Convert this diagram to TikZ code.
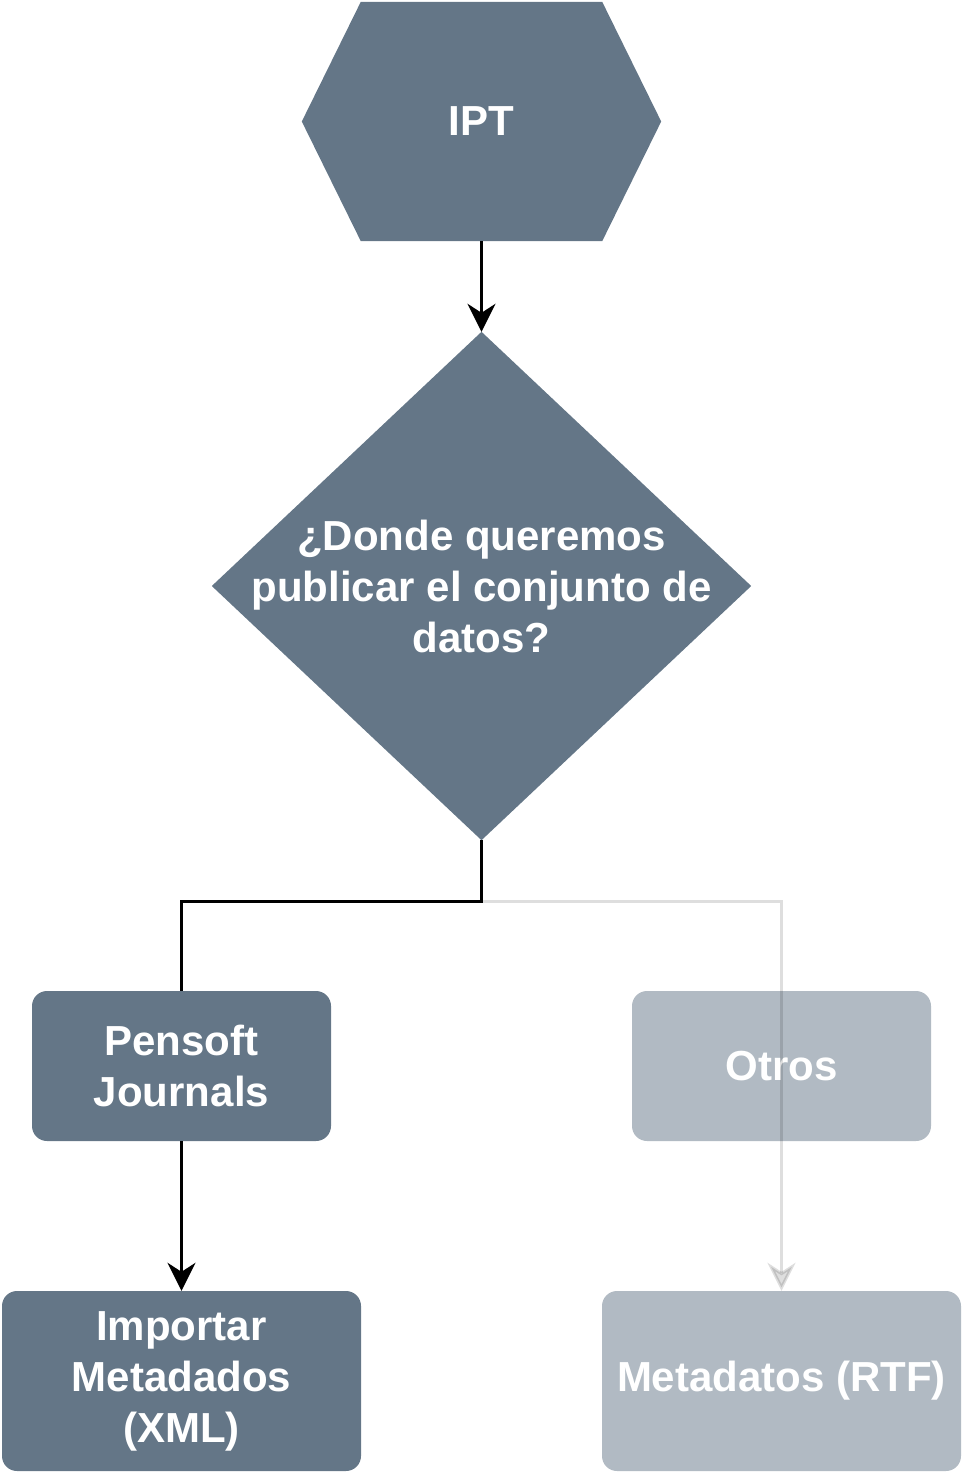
\documentclass[tikz,border=0pt]{standalone}
\usepackage{fontspec}
\setmainfont{Liberation Sans}
\usetikzlibrary{arrows.meta,calc}

\definecolor{slate}{HTML}{647687}

\begin{document}
\begin{tikzpicture}[x=1pt, y=-1pt,
    txt/.style={text=white, font=\fontsize{42}{51}\selectfont\bfseries, align=center},
    box/.style={txt, rectangle, rounded corners=15pt, fill=slate, minimum width=299pt, minimum height=150pt},
    bigbox/.style={box, minimum width=359pt, minimum height=180pt},
    faded/.style={fill=slate, fill opacity=0.5, text opacity=1},
    link/.style={line width=3pt, -{Stealth[length=28pt, width=28pt, inset=9pt]}}
  ]

    \useasboundingbox (0, 0) rectangle (963, 1473);

    % IPT
    \node[minimum width=359pt, minimum height=239pt] (ipt) at (481.5, 121.5) {};
    \fill[slate] ($(ipt.north west)+(59,0)$) -- ($(ipt.north east)+(-59,0)$) -- (ipt.east)
        -- ($(ipt.south east)+(-59,0)$) -- ($(ipt.south west)+(59,0)$) -- (ipt.west) -- cycle;
    \node[txt] at (ipt) {IPT};

    % pregunta
    \node[minimum width=539pt, minimum height=508pt] (q) at (481.5, 586) {};
    \fill[slate] (q.north) -- (q.east) -- (q.south) -- (q.west) -- cycle;
    \node[txt] at (q) {¿Donde queremos\\publicar el conjunto de\\datos?};

    % destinos
    \node[box] (pensoft) at (181.5, 1066) {Pensoft\\Journals};
    \node[box, faded] (otros) at (781.5, 1066) {Otros};

    \node[bigbox] (importar) at (181.5, 1381) {Importar\\Metadados\\(XML)};
    \node[bigbox, faded] (rtf) at (781.5, 1381) {Metadatos (RTF)};

    % conexiones
    \draw[link] (ipt.south) -- (q.north);
    \coordinate (split) at ($(q.south)+(0,61)$);
    \draw[link, opacity=0.13] (split) -| (rtf.north);
    \draw[line width=3pt] (q.south) -- (split) -| (pensoft.north);
    \draw[link] (pensoft.south) -- (importar.north);

\end{tikzpicture}
\end{document}
